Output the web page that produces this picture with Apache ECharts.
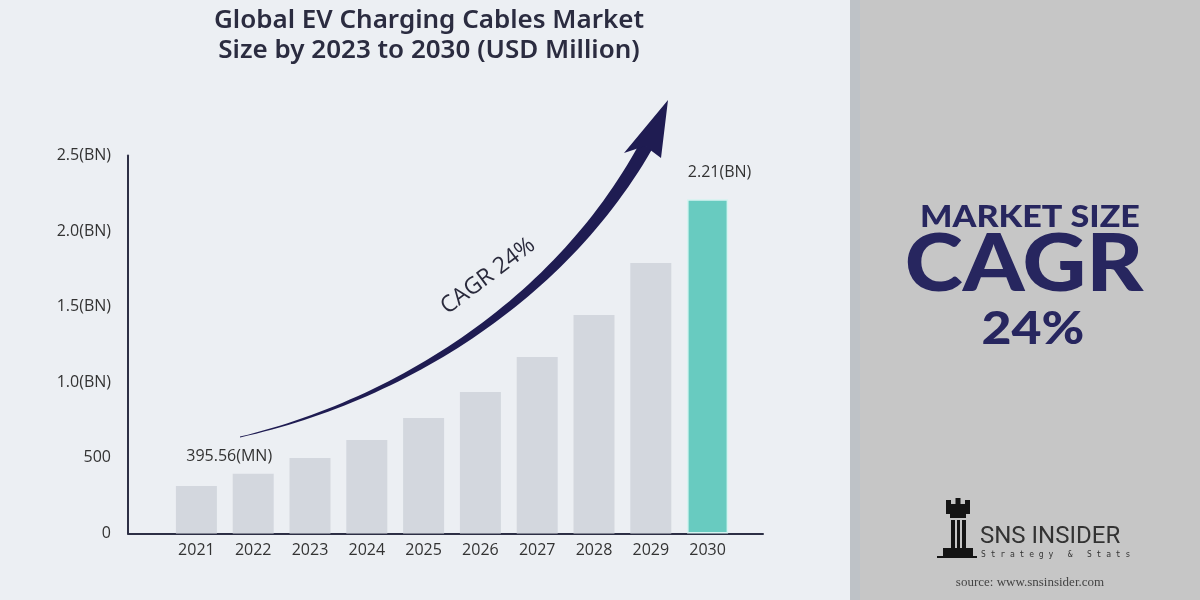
<!DOCTYPE html>
<html><head><meta charset="utf-8">
<script src="https://cdn.jsdelivr.net/npm/echarts@6/dist/echarts.min.js"></script>
<style>html,body{margin:0;padding:0;background:#eceff3}#c{width:1200px;height:600px}</style>
</head><body><div id="c"></div>
<script>
const years = ['2021','2022','2023','2024','2025','2026','2027','2028','2029','2030'];
const marketSize = [314, 395.56, 499, 618, 764, 936, 1167, 1445, 1789, 2210];
const yTickLabels = {0:'0', 500:'500', 1000:'1.0(BN)', 1500:'1.5(BN)', 2000:'2.0(BN)', 2500:'2.5(BN)'};
const firstLabel = '395.56(MN)';
const lastLabel = '2.21(BN)';
const titleLines = ['Global EV Charging Cables Market', 'Size by 2023 to 2030 (USD Million)'];

const navy = '#27265f';
const chart = echarts.init(document.getElementById('c'));

// tapered curved arrow (decoration)
function arrowShape(){
  const P=[[240,437],[400,400],[560,300],[646,146]];
  const L=[],R=[];
  const N=60;
  for(let i=0;i<=N;i++){
    const t=i/N, u=1-t;
    const x=u*u*u*P[0][0]+3*u*u*t*P[1][0]+3*u*t*t*P[2][0]+t*t*t*P[3][0];
    const y=u*u*u*P[0][1]+3*u*u*t*P[1][1]+3*u*t*t*P[2][1]+t*t*t*P[3][1];
    const dx=3*u*u*(P[1][0]-P[0][0])+6*u*t*(P[2][0]-P[1][0])+3*t*t*(P[3][0]-P[2][0]);
    const dy=3*u*u*(P[1][1]-P[0][1])+6*u*t*(P[2][1]-P[1][1])+3*t*t*(P[3][1]-P[2][1]);
    const len=Math.hypot(dx,dy); const nx=-dy/len, ny=dx/len;
    const w=(0.8+13*Math.pow(t,1.1))/2;
    L.push([x+nx*w,y+ny*w]); R.push([x-nx*w,y-ny*w]);
  }
  return L.concat(R.reverse());
}

const labelFont = {fontFamily: 'Open Sans', fontSize: 16, color: '#333'};

const option = {
  backgroundColor: '#eceff3',
  animation: false,
  title: {
    text: titleLines.join('\n'),
    left: 424, top: 1, textAlign: 'center',
    textStyle: {fontFamily: 'Noto Sans', fontWeight: 600, fontSize: 26, color: '#2b2c40', lineHeight: 30}
  },
  grid: [
    {left: 168, right: 464, top: 155.5, bottom: 66.5},
    {left: 128, right: 437, top: 155.5, bottom: 66.5}
  ],
  xAxis: [
    {type: 'category', data: years, gridIndex: 0,
     axisLine: {show: false}, axisTick: {show: false},
     axisLabel: Object.assign({margin: 9}, labelFont)},
    {type: 'value', gridIndex: 1, min: 0, max: 1,
     axisLine: {show: true, lineStyle: {color: '#2d2f45', width: 2}},
     axisTick: {show: false}, axisLabel: {show: false}, splitLine: {show: false}}
  ],
  yAxis: [
    {type: 'value', gridIndex: 0, min: 0, max: 2500, interval: 500, offset: 40,
     axisLine: {show: true, lineStyle: {color: '#2d2f45', width: 2}},
     axisTick: {show: false}, splitLine: {show: false},
     axisLabel: Object.assign({margin: 17, formatter: v => yTickLabels[v]}, labelFont)},
    {type: 'value', gridIndex: 1, show: false, min: 0, max: 1}
  ],
  series: [{
    type: 'bar', xAxisIndex: 0, yAxisIndex: 0, barWidth: 41,
    data: marketSize.map((v, i) => {
      const d = {value: v, itemStyle: {color: '#d3d7de'}};
      if (i === years.length - 1) {
        d.itemStyle = {color: '#68cbc0', borderColor: '#d6f4f1', borderWidth: 1.5};
        d.label = Object.assign({show: true, position: 'top', distance: 19, offset: [12, 0], formatter: lastLabel}, labelFont);
      }
      if (i === 1) {
        d.label = Object.assign({show: true, position: 'top', distance: 9, offset: [-24, 0], formatter: firstLabel}, labelFont);
      }
      return d;
    })
  }],
  graphic: [
    {type: 'rect', shape: {x: 850, y: 0, width: 350, height: 600}, style: {fill: '#c6c6c6'}, z: -1},
    {type: 'rect', shape: {x: 850, y: 0, width: 10, height: 600}, style: {fill: '#bec2c7'}, z: -1},
    {type: 'polygon', shape: {points: arrowShape()}, style: {fill: '#1f1c52'}},
    {type: 'polygon', shape: {points: [[668,100],[624,153],[645,146],[661,158]]}, style: {fill: '#1f1c52'}},
    {type: 'text', x: 488, y: 276, rotation: 37*Math.PI/180,
     style: {text: 'CAGR 24%', fontFamily: 'Open Sans', fontSize: 23, fill: '#2a2a3c', align: 'center', verticalAlign: 'middle'}},
    {type: 'text', x: 1030, y: 217, scaleX: 1.1, style: {text: 'MARKET SIZE', fontFamily: 'Lato', fontWeight: 900, fontSize: 31, fill: navy, align: 'center', verticalAlign: 'middle'}},
    {type: 'text', x: 1024, y: 265, scaleX: 1.1, style: {text: 'CAGR', fontFamily: 'Lato', fontWeight: 900, fontSize: 80, fill: navy, align: 'center', verticalAlign: 'middle'}},
    {type: 'text', x: 1033, y: 329, scaleX: 1.15, style: {text: '24%', fontFamily: 'Lato', fontWeight: 900, fontSize: 45, fill: navy, align: 'center', verticalAlign: 'middle'}},
    // logo
    {type: 'group', children: [
      {type: 'rect', shape: {x: 946, y: 504, width: 24, height: 10}, style: {fill: '#151515'}},
      {type: 'rect', shape: {x: 946, y: 500, width: 5, height: 6}, style: {fill: '#151515'}},
      {type: 'rect', shape: {x: 955.5, y: 498, width: 5, height: 8}, style: {fill: '#151515'}},
      {type: 'rect', shape: {x: 965, y: 500, width: 5, height: 6}, style: {fill: '#151515'}},
      {type: 'rect', shape: {x: 950, y: 514, width: 16, height: 4}, style: {fill: '#151515'}},
      {type: 'rect', shape: {x: 951, y: 520, width: 4, height: 29}, style: {fill: '#151515'}},
      {type: 'rect', shape: {x: 957, y: 520, width: 3, height: 29}, style: {fill: '#151515'}},
      {type: 'rect', shape: {x: 962, y: 520, width: 4, height: 29}, style: {fill: '#151515'}},
      {type: 'rect', shape: {x: 943, y: 548, width: 30, height: 9}, style: {fill: '#151515'}},
      {type: 'rect', shape: {x: 937, y: 556, width: 40, height: 2}, style: {fill: '#151515'}}
    ]},
    {type: 'text', x: 980, y: 537, style: {text: 'SNS INSIDER', fontFamily: 'Liberation Sans Narrow, Roboto', fontSize: 24, fill: '#333', verticalAlign: 'middle'}},
    {type: 'text', x: 981, y: 555, style: {text: 'S t r a t e g y   &   S t a t s', fontFamily: 'DejaVu Sans Mono', fontSize: 8, fill: '#333', verticalAlign: 'middle'}},
    {type: 'text', x: 1030, y: 583, style: {text: 'source: www.snsinsider.com', fontFamily: 'Liberation Serif', fontSize: 13, fill: '#444', align: 'center', verticalAlign: 'middle'}}
  ]
};
chart.setOption(option);
</script></body></html>
